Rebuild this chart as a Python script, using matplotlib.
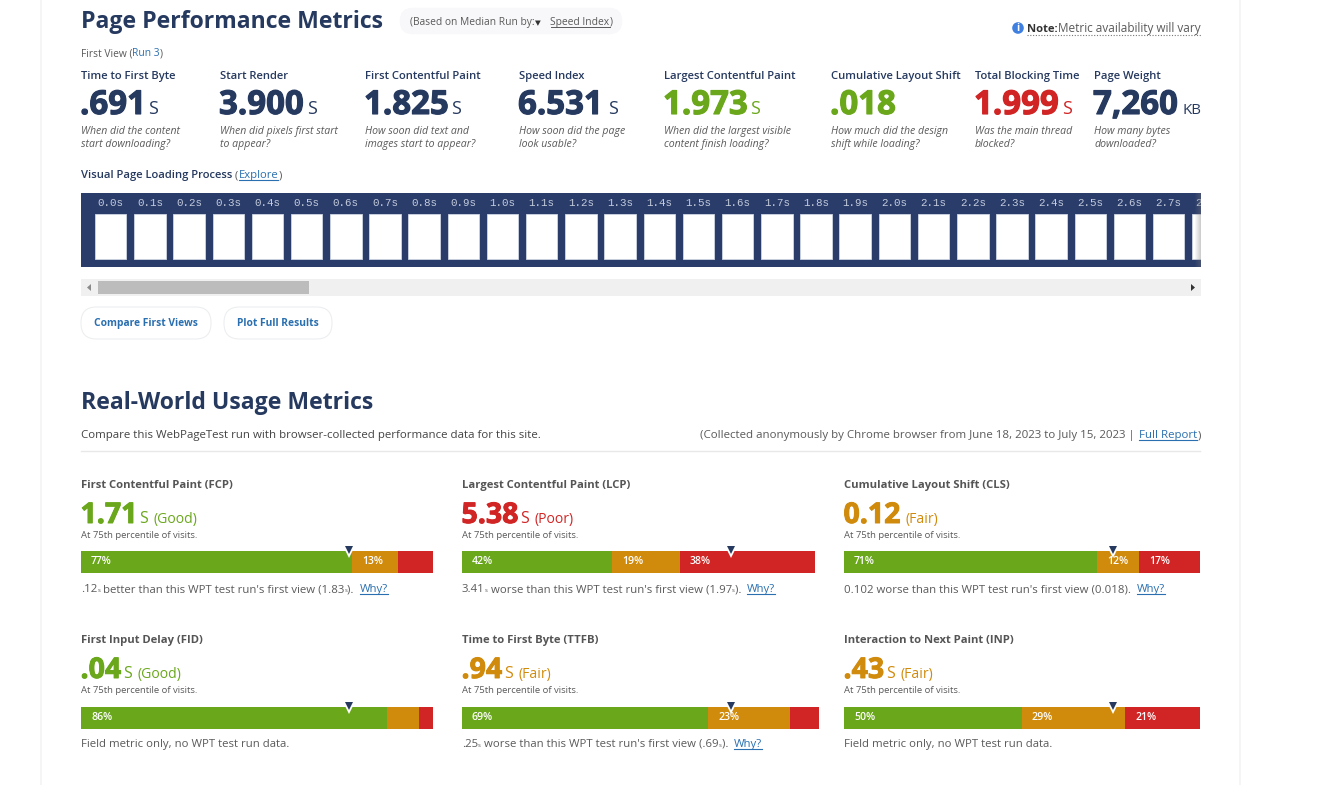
import matplotlib
matplotlib.use("Agg")
import matplotlib.pyplot as plt
import matplotlib.patheffects as pe
from matplotlib.patches import FancyBboxPatch, Rectangle, Circle, Polygon

W, H = 1337, 785
NAVY = "#26395f"; STRIP = "#2a3c6a"; GREEN = "#6aa71b"; ORANGE = "#d18b0c"; RED = "#d12424"
GRAY = "#5a5a5a"; LINK = "#2a6fb0"
FONT = ["Open Sans", "DejaVu Sans"]

# ---------- data ----------
metric_names = ["Time to First Byte", "Start Render", "First Contentful Paint", "Speed Index",
                "Largest Contentful Paint", "Cumulative Layout Shift", "Total Blocking Time", "Page Weight"]
metric_values = [".691", "3.900", "1.825", "6.531", "1.973", ".018", "1.999", "7,260"]
metric_units = ["s", "s", "s", "s", "s", "", "s", "KB"]
metric_colors = [NAVY, NAVY, NAVY, NAVY, GREEN, GREEN, RED, NAVY]
metric_notes = [["When did the content", "start downloading?"],
                ["When did pixels first start", "to appear?"],
                ["How soon did text and", "images start to appear?"],
                ["How soon did the page", "look usable?"],
                ["When did the largest visible", "content finish loading?"],
                ["How much did the design", "shift while loading?"],
                ["Was the main thread", "blocked?"],
                ["How many bytes", "downloaded?"]]

frame_times = [0.0, 0.1, 0.2, 0.3, 0.4, 0.5, 0.6, 0.7, 0.8, 0.9, 1.0, 1.1, 1.2, 1.3, 1.4,
               1.5, 1.6, 1.7, 1.8, 1.9, 2.0, 2.1, 2.2, 2.3, 2.4, 2.5, 2.6, 2.7, 2.8]

field_names = ["First Contentful Paint (FCP)", "Largest Contentful Paint (LCP)", "Cumulative Layout Shift (CLS)",
               "First Input Delay (FID)", "Time to First Byte (TTFB)", "Interaction to Next Paint (INP)"]
field_values = ["1.71", "5.38", "0.12", ".04", ".94", ".43"]
field_units = ["s", "s", "", "s", "s", "s"]
field_ratings = ["(Good)", "(Poor)", "(Fair)", "(Good)", "(Fair)", "(Fair)"]
pct_good = [77, 42, 71, 86, 69, 50]
pct_fair = [13, 19, 12, 9, 23, 29]
pct_poor = [10, 38, 17, 4, 8, 21]
marker_pct = [76.1, 76.2, 75.6, 76.1, 75.4, 75.6]
field_notes = [".12|s| better than this WPT test run's first view (1.83|s|). ",
               "3.41|s| worse than this WPT test run's first view (1.97|s|). ",
               "0.102 worse than this WPT test run's first view (0.018). ",
               "Field metric only, no WPT test run data.",
               ".25|s| worse than this WPT test run's first view (.69|s|). ",
               "Field metric only, no WPT test run data."]

# ---------- canvas ----------
fig = plt.figure(figsize=(W / 100, H / 100), dpi=100, facecolor="white")
ax = fig.add_axes([0, 0, 1, 1])
ax.set_xlim(0, W); ax.set_ylim(H, 0); ax.axis("off")
rend = fig.canvas.get_renderer()


def t(x, y, s, px, color=GRAY, weight="normal", style="normal", ha="left", family=FONT, stroke=0):
    tx = ax.text(x, y, s, fontsize=px * 0.72, color=color, fontweight=weight, fontstyle=style,
                 ha=ha, va="baseline", family=family)
    if stroke:
        tx.set_path_effects([pe.withStroke(linewidth=stroke, foreground=color)])
    return tx


def width(txt):
    return txt.get_window_extent(rend).width


def row(x, y, segs):
    """segs: (text, px, color, weight, underline)"""
    for s, px, color, weight, ul in segs:
        tx = t(x, y, s, px, color, weight)
        w = width(tx)
        if ul:
            ax.plot([x, x + w], [y + 2, y + 2], color=color, lw=0.8)
        x += w + (px * 0.25 if s.endswith(" ") else 0)
    return x


# page edges
for ex in (41, 1240):
    ax.plot([ex, ex], [0, H], color="#f3f3f3", lw=1.2)

# ---------- header ----------
t(81, 28, "Page Performance Metrics", 23, NAVY, "bold")
ax.add_patch(FancyBboxPatch((404, 12), 214, 18, boxstyle="round,pad=0,rounding_size=8", fc="#f8f8fa", ec="#f8f8fa", lw=6))
t(410, 25, "(Based on Median Run by:", 10.3, GRAY)
t(535, 25, "▼", 7.5, "#333333")
stx = t(550.5, 25, "Speed Index", 10.3, GRAY)
ax.plot([550.5, 550.5 + width(stx)], [27, 27], color=GRAY, lw=0.7)
t(550.5 + width(stx), 25, ")", 10.3, GRAY)

ax.add_patch(Circle((1018, 28), 5.8, fc="#3f7fe0", ec="none"))
ax.text(1018, 28.3, "i", color="white", fontsize=7.5, fontweight="bold", ha="center", va="center", family=FONT)
t(1027, 32, "Note:", 11.2, "#333333", "bold")
t(1201, 32, "Metric availability will vary", 11.7, GRAY, ha="right")
ax.plot([1027, 1201], [35, 35], color="#777777", lw=0.8, ls=(0, (1, 1.5)))

row(81, 56, [("First View (", 10.2, GRAY, "normal", None), ("Run 3", 10.2, LINK, "normal", None), (")", 10.2, GRAY, "normal", None)])

metric_x = [81, 220, 365, 519, 664, 831, 975, 1094]
unit_x = [148.5, 307.5, 451.5, 608.5, 750, None, 1062, 1183]
for i, name in enumerate(metric_names):
    x = metric_x[i]
    t(x, 79, name, 11.3, NAVY, "semibold")
    t(x - 1, 114, metric_values[i], 33, metric_colors[i], "bold", stroke=0.8)
    if metric_units[i]:
        t(unit_x[i], 114, metric_units[i].upper(), 18 if metric_units[i] == "s" else 15, metric_colors[i])
    t(x, 134, metric_notes[i][0], 10.45, GRAY, style="italic")
    t(x, 147, metric_notes[i][1], 10.45, GRAY, style="italic")

row(81, 178, [("Visual Page Loading Process", 11.2, NAVY, "semibold", None), (" (", 11.2, GRAY, "normal", None),
              ("Explore", 11.2, LINK, "normal", True), (")", 11.2, GRAY, "normal", None)])

# ---------- filmstrip ----------
PX_PER_S = 391.85
sx = fig.add_axes([81 / W, 1 - 267 / H, 1120 / W, 74 / H])
sx.set_xlim(-0.0758, -0.0758 + 1120 / PX_PER_S)
sx.set_ylim(74, 0)
sx.set_facecolor(STRIP)
sx.set_xticks([]); sx.set_yticks([])
for sp in sx.spines.values():
    sp.set_visible(False)
sx.bar(frame_times, [46] * len(frame_times), bottom=20.5, width=0.0804, color="white", edgecolor="#cfd6e4", linewidth=0.6)
for ft in frame_times:
    sx.text(ft, 13.5, f"{ft:.1f}s", ha="center", va="baseline", fontsize=7.8, color="#c3cbdc",
            family="Liberation Mono", clip_on=True)
for k in range(6):
    sx.add_patch(Rectangle((1 - (6 - k) / 1120, 0), 1 / 1120, 1, transform=sx.transAxes,
                           fc="#777777", ec="none", alpha=0.06 * (k + 1), zorder=5))

# scrollbar
ax.add_patch(Rectangle((81, 279), 1120, 17, fc="#f1f0f1", ec="none"))
ax.add_patch(Rectangle((98, 281), 211, 13, fc="#bdbcbd", ec="none"))
ax.add_patch(Polygon([[87, 287.5], [91, 284], [91, 291]], fc="#8a8a8a", ec="none"))
ax.add_patch(Polygon([[1195, 287.5], [1191, 284], [1191, 291]], fc="#333333", ec="none"))

# buttons
for x0, x1, label in [(81, 211, "Compare First Views"), (224, 332, "Plot Full Results")]:
    ax.add_patch(FancyBboxPatch((x0, 307), x1 - x0, 32, boxstyle="round,pad=0,rounding_size=15.5",
                                fc="white", ec="#eceef0", lw=0.8))
    t((x0 + x1) / 2, 326, label, 10.2, LINK, "bold", ha="center")

# ---------- real-world ----------
t(81, 409, "Real-World Usage Metrics", 23, NAVY, "bold")
t(81, 438, "Compare this WebPageTest run with browser-collected performance data for this site.", 11.45, "#444444")
t(1201, 438, ")", 11.45, GRAY, ha="right")
lk = t(1197, 438, "Full Report", 11.45, LINK, ha="right")
ax.plot([1197 - width(lk), 1197], [440, 440], color=LINK, lw=0.8)
t(1197 - width(lk) - 1, 438, "(Collected anonymously by Chrome browser from June 18, 2023 to July 15, 2023 | ", 11.45, GRAY, ha="right")
ax.plot([81, 1200], [450.5, 450.5], color="#e6e8ea", lw=1)

col_x = [(81, 433), (462, 815), (844, 1200), (81, 433), (462, 819), (844, 1200)]
row_y = [0, 0, 0, 155, 155, 155]
bar_y = [551, 551, 551, 707, 707, 707]
rate_c = {"(Good)": GREEN, "(Poor)": RED, "(Fair)": ORANGE}
for i, name in enumerate(field_names):
    x0, x1 = col_x[i]
    dy = row_y[i]
    c = rate_c[field_ratings[i]]
    t(x0, 488 + dy, name, 11.3, "#555555", "bold")
    v = t(x0 - 0.5, 523 + dy, field_values[i], 28.5, c, "bold", stroke=0.7)
    vx = x0 + width(v) + 1
    if field_units[i]:
        u = t(vx, 523 + dy, field_units[i].upper(), 16, c)
        vx += width(u) + 6
    else:
        vx += 4
    t(vx, 523 + dy, field_ratings[i], 14, c)
    t(x0, 538 + dy, "At 75th percentile of visits.", 9.45, GRAY)

    # stacked bar
    b = fig.add_axes([x0 / W, 1 - (bar_y[i] + 22) / H, (x1 - x0) / W, 22 / H])
    vals = [pct_good[i], pct_fair[i], pct_poor[i]]
    total = sum(vals)
    b.set_xlim(0, total); b.set_ylim(0, 1); b.axis("off")
    left = 0
    for val, col in zip(vals, [GREEN, ORANGE, RED]):
        b.barh(0.5, val, height=1, left=left, color=col, linewidth=0)
        if val >= 11:
            b.annotate(f"{val}%", (left, 0.5), xytext=(10, 0), textcoords="offset pixels", color="white",
                       fontsize=7.6, fontweight="semibold", family=FONT, va="center", ha="left")
        left += val
    m = marker_pct[i] * total / 100
    b.plot([m], [0.93], marker="v", ms=6.5, color="white", mew=0, clip_on=False, zorder=5)
    b.plot([m], [1.06], marker="v", ms=5.8, color=NAVY, mew=0, clip_on=False, zorder=6)

    # comparison line
    parts = field_notes[i].split("|")
    segs = [(p, 6 if p == "s" else 11.35, GRAY, "normal", None) for p in parts]
    end = row(x0, 592 + dy, segs)
    if field_notes[i].endswith(" "):
        wtx = t(end, 592 + dy, "Why?", 11.35, LINK)
        ax.plot([end, end + width(wtx)], [594 + dy, 594 + dy], color=LINK, lw=0.8)

fig.savefig("out.png", dpi=100, facecolor="white")
